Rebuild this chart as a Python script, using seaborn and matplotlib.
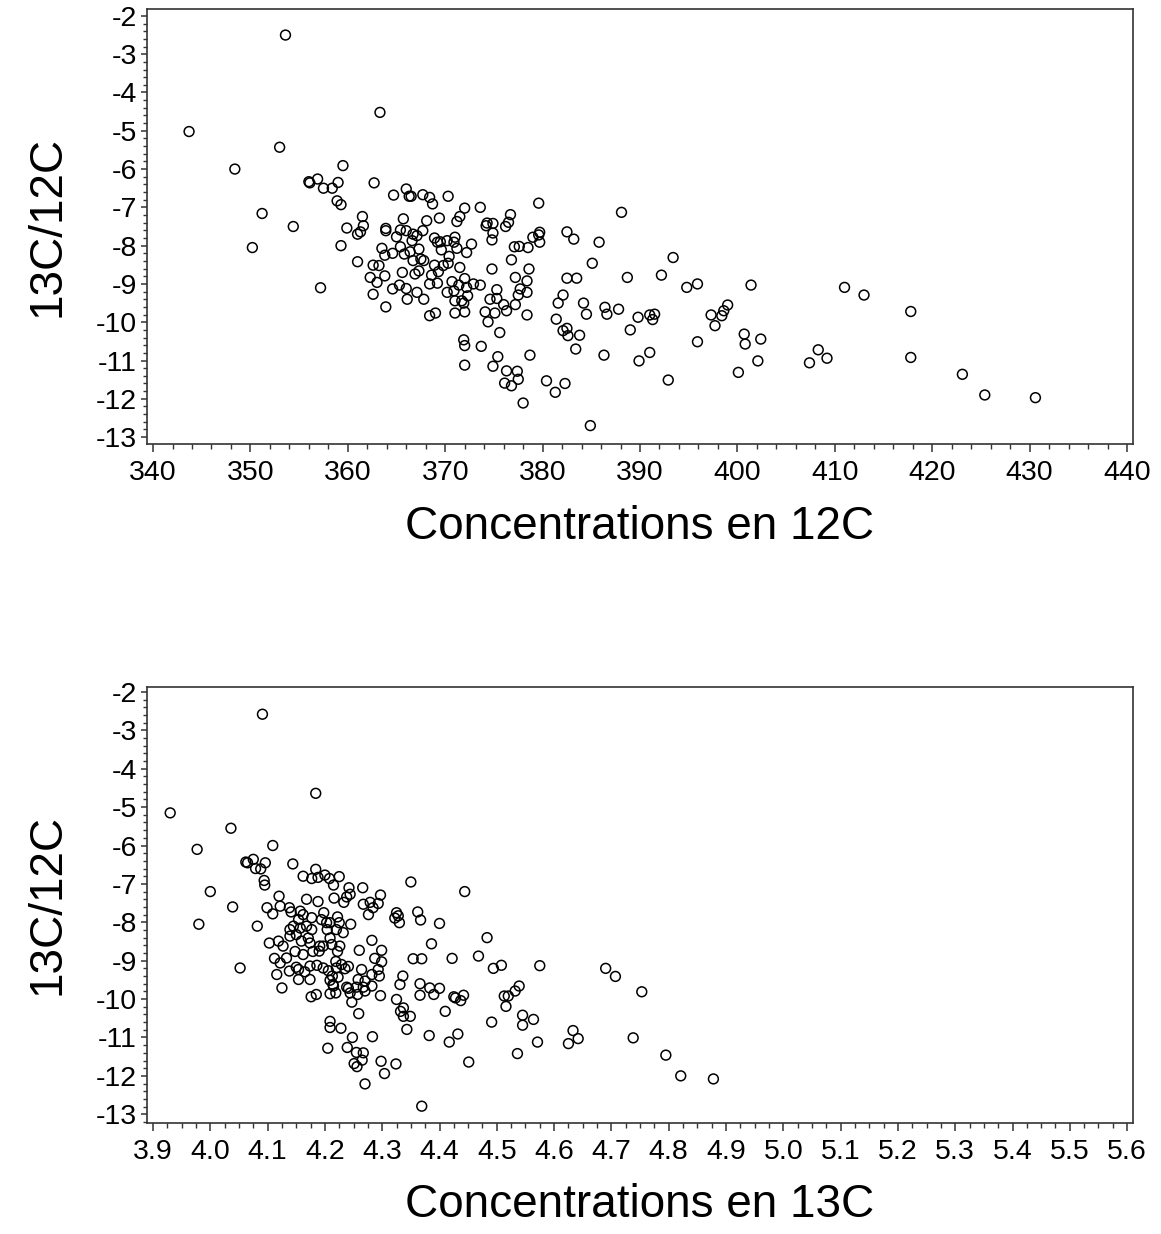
import pandas as pd
import matplotlib
matplotlib.use('Agg')
import matplotlib.pyplot as plt
from matplotlib.ticker import MultipleLocator, FormatStrFormatter
import seaborn as sns

# top panel : concentration 12C vs ratio
conc12 = [353.6, 343.7, 363.3, 353.0, 348.4, 356.0, 356.1, 356.9, 357.5, 358.4,
          351.2, 354.4, 350.2, 357.2, 359.5, 359.0, 362.7, 358.9, 359.3, 364.7,
          366.0, 366.3, 366.5, 367.7, 368.4, 368.7, 370.3, 372.0, 373.6, 379.6,
          361.5, 365.7, 368.1, 369.4, 371.5, 371.2, 374.3, 374.9, 376.7, 376.5,
          376.2, 374.2, 359.9, 361.0, 361.3, 361.6, 363.9, 363.9, 365.4, 366.0,
          366.7, 367.1, 367.7, 365.0, 368.9, 369.2, 369.5, 370.2, 371.0, 370.9,
          371.2, 372.7, 374.9, 374.8, 379.0, 379.7, 379.6, 379.7, 382.5, 359.3,
          363.5, 363.8, 364.6, 365.4, 365.8, 366.4, 366.6, 367.3, 366.7, 367.5,
          367.8, 369.6, 370.4, 372.2, 377.1, 377.6, 378.5, 361.0, 362.6, 363.2,
          365.6, 367.3, 368.9, 369.3, 369.8, 370.3, 371.5, 374.8, 376.8, 378.6,
          362.3, 363.0, 363.8, 365.3, 366.9, 368.6, 368.4, 369.2, 370.7, 372.0,
          371.4, 372.9, 373.6, 377.2, 378.4, 382.5, 362.6, 364.6, 366.0, 367.1,
          366.1, 367.8, 370.2, 370.9, 371.0, 371.7, 371.9, 372.2, 372.3, 375.3,
          374.6, 375.3, 376.0, 377.2, 377.7, 377.5, 378.4, 382.1, 381.6, 363.9,
          368.4, 369.0, 372.0, 371.0, 374.1, 375.1, 376.3, 374.4, 375.6, 378.4,
          381.4, 382.1, 382.5, 382.6, 371.9, 372.0, 373.7, 378.7, 375.4, 374.9,
          372.0, 376.3, 377.4, 377.5, 376.1, 376.8, 380.4, 381.3, 382.3, 378.0,
          388.1, 383.2, 385.8, 385.1, 393.4, 383.5, 388.7, 392.2, 394.8, 395.9,
          401.4, 384.2, 384.5, 386.4, 386.6, 387.8, 383.8, 383.4, 389.8, 391.0,
          391.5, 391.3, 389.0, 397.3, 398.4, 398.6, 399.0, 397.7, 400.7, 402.4,
          400.8, 395.9, 386.3, 391.0, 389.9, 402.1, 400.1, 392.9, 384.9, 408.3,
          409.2, 407.4, 411.0, 413.0, 417.8, 417.8, 423.1, 425.4, 430.6]
ratio_top = [-2.50, -5.02, -4.52, -5.43, -6.00, -6.33, -6.36, -6.26, -6.50, -6.50,
             -7.16, -7.50, -8.05, -9.10, -5.91, -6.35, -6.36, -6.83, -6.93, -6.68,
             -6.52, -6.71, -6.71, -6.67, -6.74, -6.91, -6.71, -7.02, -7.00, -6.89,
             -7.24, -7.30, -7.35, -7.28, -7.24, -7.37, -7.41, -7.42, -7.19, -7.39,
             -7.50, -7.48, -7.54, -7.70, -7.64, -7.48, -7.55, -7.61, -7.59, -7.61,
             -7.70, -7.74, -7.61, -7.77, -7.80, -7.91, -7.90, -7.87, -7.78, -7.91,
             -8.07, -7.96, -7.67, -7.85, -7.78, -7.65, -7.72, -7.91, -7.64, -8.00,
             -8.07, -8.25, -8.20, -8.03, -8.22, -8.16, -7.87, -8.09, -8.39, -8.35,
             -8.39, -8.11, -8.28, -8.18, -8.03, -8.02, -8.05, -8.42, -8.51, -8.52,
             -8.70, -8.66, -8.51, -8.68, -8.52, -8.46, -8.57, -8.61, -8.37, -8.61,
             -8.83, -8.96, -8.79, -9.03, -8.74, -8.77, -9.00, -8.98, -8.94, -8.86,
             -9.03, -9.00, -9.03, -8.83, -8.92, -8.85, -9.27, -9.13, -9.12, -9.22,
             -9.40, -9.40, -9.22, -9.18, -9.44, -9.44, -9.50, -9.09, -9.31, -9.15,
             -9.40, -9.38, -9.54, -9.54, -9.13, -9.29, -9.22, -9.29, -9.50, -9.60,
             -9.83, -9.76, -9.73, -9.76, -9.73, -9.76, -9.70, -9.99, -10.27, -9.81,
             -9.92, -10.22, -10.16, -10.35, -10.46, -10.61, -10.63, -10.86, -10.90, -11.15,
             -11.12, -11.27, -11.28, -11.49, -11.59, -11.66, -11.53, -11.83, -11.60, -12.11,
             -7.13, -7.83, -7.91, -8.46, -8.31, -8.85, -8.83, -8.77, -9.09, -9.00,
             -9.03, -9.50, -9.79, -9.61, -9.79, -9.66, -10.34, -10.70, -9.87, -9.81,
             -9.79, -9.93, -10.20, -9.81, -9.83, -9.70, -9.55, -10.09, -10.31, -10.44,
             -10.57, -10.51, -10.86, -10.79, -11.01, -11.01, -11.31, -11.51, -12.70, -10.72,
             -10.94, -11.06, -9.09, -9.29, -9.72, -10.92, -11.36, -11.90, -11.97]

# bottom panel : concentration 13C vs ratio
conc13 = [3.930, 3.977, 4.036, 4.091, 4.184, 4.109, 4.062, 4.065, 4.075, 4.079,
          4.088, 4.096, 4.144, 4.184, 4.094, 4.162, 4.177, 4.188, 4.200, 4.208,
          4.215, 4.225, 4.095, 4.242, 4.266, 4.350, 4.444, 4.039, 4.000, 3.980,
          4.120, 4.099, 4.109, 4.122, 4.138, 4.141, 4.168, 4.188, 4.216, 4.238,
          4.233, 4.244, 4.267, 4.279, 4.293, 4.297, 4.276, 4.284, 4.325, 4.328,
          4.330, 4.322, 4.362, 4.367, 4.400, 4.082, 4.157, 4.162, 4.154, 4.139,
          4.145, 4.157, 4.168, 4.177, 4.139, 4.150, 4.171, 4.159, 4.174, 4.177,
          4.194, 4.198, 4.203, 4.209, 4.222, 4.225, 4.232, 4.245, 4.220, 4.204,
          4.209, 4.103, 4.119, 4.127, 4.148, 4.162, 4.179, 4.191, 4.197, 4.190,
          4.212, 4.226, 4.222, 4.260, 4.282, 4.299, 4.287, 4.299, 4.386, 4.354,
          4.369, 4.422, 4.468, 4.483, 4.494, 4.508, 4.575, 4.690, 4.707, 4.753,
          4.052, 4.112, 4.133, 4.122, 4.150, 4.154, 4.138, 4.165, 4.174, 4.186,
          4.197, 4.206, 4.219, 4.220, 4.229, 4.235, 4.241, 4.213, 4.223, 4.209,
          4.116, 4.154, 4.174, 4.264, 4.258, 4.270, 4.282, 4.293, 4.295, 4.282,
          4.267, 4.336, 4.331, 4.366, 4.383, 4.400, 4.125, 4.215, 4.238, 4.425,
          4.428, 4.442, 4.437, 4.410, 4.513, 4.520, 4.532, 4.539, 4.516, 4.491,
          4.545, 4.545, 4.564, 4.571, 4.536, 4.432, 4.417, 4.451, 4.633, 4.642,
          4.625, 4.738, 4.795, 4.821, 4.878, 4.176, 4.185, 4.209, 4.219, 4.214,
          4.241, 4.244, 4.257, 4.255, 4.270, 4.247, 4.259, 4.297, 4.209, 4.209,
          4.228, 4.205, 4.248, 4.239, 4.255, 4.267, 4.265, 4.251, 4.256, 4.283,
          4.270, 4.298, 4.304, 4.324, 4.325, 4.332, 4.337, 4.337, 4.349, 4.343,
          4.366, 4.390, 4.382, 4.369]
ratio_bot = [-5.15, -6.10, -5.55, -2.58, -4.64, -6.00, -6.43, -6.45, -6.36, -6.60,
             -6.61, -6.45, -6.48, -6.62, -6.91, -6.80, -6.86, -6.83, -6.77, -6.86,
             -7.03, -6.81, -7.03, -7.10, -7.10, -6.95, -7.20, -7.60, -7.20, -8.05,
             -7.32, -7.62, -7.78, -7.58, -7.62, -7.73, -7.40, -7.46, -7.37, -7.34,
             -7.48, -7.27, -7.53, -7.48, -7.51, -7.29, -7.80, -7.62, -7.75, -7.83,
             -8.01, -7.89, -7.73, -7.94, -8.03, -8.10, -7.71, -7.80, -7.93, -8.19,
             -8.10, -8.15, -8.10, -8.19, -8.36, -8.32, -8.41, -8.49, -8.54, -7.88,
             -7.93, -7.75, -8.01, -8.01, -7.86, -8.01, -8.27, -8.05, -8.19, -8.19,
             -8.41, -8.54, -8.49, -8.62, -8.76, -8.84, -8.76, -8.62, -8.62, -8.75,
             -8.58, -8.62, -8.76, -8.73, -8.47, -8.73, -8.94, -9.03, -8.56, -8.95,
             -8.95, -8.94, -8.88, -8.40, -9.20, -9.12, -9.13, -9.20, -9.41, -9.81,
             -9.19, -8.94, -8.93, -9.06, -9.17, -9.23, -9.27, -9.29, -9.14, -9.12,
             -9.19, -9.26, -9.02, -9.19, -9.10, -9.21, -9.15, -9.40, -9.43, -9.51,
             -9.36, -9.49, -9.49, -9.23, -9.49, -9.53, -9.36, -9.23, -9.40, -9.66,
             -9.69, -9.40, -9.62, -9.60, -9.71, -9.72, -9.71, -9.66, -9.69, -9.94,
             -9.97, -9.90, -10.04, -10.32, -9.92, -9.92, -9.79, -9.66, -10.19, -10.60,
             -10.42, -10.68, -10.53, -11.12, -11.42, -10.91, -11.12, -11.64, -10.82, -11.03,
             -11.16, -11.01, -11.46, -12.00, -12.08, -9.94, -9.88, -9.86, -9.84, -9.62,
             -9.72, -9.84, -9.88, -9.69, -9.79, -10.08, -10.38, -9.91, -10.58, -10.74,
             -10.76, -11.28, -11.00, -11.26, -11.39, -11.40, -11.59, -11.68, -11.76, -10.98,
             -12.21, -11.62, -11.94, -11.69, -10.01, -10.32, -10.23, -10.45, -10.45, -10.79,
             -9.90, -9.88, -10.95, -12.79]

yticks = list(range(-13, -1))

df_top = pd.DataFrame({'c12': conc12, 'ratio': ratio_top})
df_bot = pd.DataFrame({'c13': conc13, 'ratio': ratio_bot})

sns.set_style('ticks')
plt.rcParams['font.family'] = ['Liberation Sans', 'DejaVu Sans']
plt.rcParams['axes.unicode_minus'] = False
plt.rcParams['axes.edgecolor'] = '#333333'
plt.rcParams['axes.linewidth'] = 1.2
plt.rcParams['text.color'] = 'black'
plt.rcParams['axes.labelcolor'] = 'black'
plt.rcParams['xtick.labelcolor'] = 'black'
plt.rcParams['ytick.labelcolor'] = 'black'

fig = plt.figure(figsize=(11.61, 12.34), dpi=100)
ax1 = fig.add_axes([0.1266, 0.6402, 0.8493, 0.3525])
ax2 = fig.add_axes([0.1266, 0.0902, 0.8493, 0.3531])

pt = dict(marker='o', s=50, facecolor='none', edgecolor='black', linewidth=1.1)
sns.scatterplot(data=df_top, x='c12', y='ratio', ax=ax1, **pt)
sns.scatterplot(data=df_bot, x='c13', y='ratio', ax=ax2, **pt)

ax1.set_xlim(339.38, 440.62)
ax1.set_ylim(-13.18, -1.82)
ax1.xaxis.set_major_locator(MultipleLocator(10))
ax1.xaxis.set_minor_locator(MultipleLocator(2))
ax1.set_xlabel('Concentrations en 12C')

ax2.set_xlim(3.8895, 5.6103)
ax2.set_ylim(-13.22, -1.87)
ax2.xaxis.set_major_locator(MultipleLocator(0.1))
ax2.xaxis.set_minor_locator(MultipleLocator(0.025))
ax2.xaxis.set_major_formatter(FormatStrFormatter('%.1f'))
ax2.set_xlabel('Concentrations en 13C')

for ax in (ax1, ax2):
    ax.set_yticks(yticks)
    ax.yaxis.set_minor_locator(MultipleLocator(0.2))
    ax.set_ylabel('13C/12C')
    ax.tick_params(axis='both', which='major', labelsize=20.5, color='#333333', width=1.1)
    ax.tick_params(axis='x', which='major', length=5.8, pad=6)
    ax.tick_params(axis='y', which='major', length=4.3, pad=3)
    ax.tick_params(axis='x', which='minor', length=3.4, width=1.0, color='#333333')
    ax.tick_params(axis='y', which='minor', length=3.0, width=1.0, color='#333333')
    ax.xaxis.label.set_size(33)
    ax.yaxis.label.set_size(33)
    ax.xaxis.label.set_va('center')
    ax.yaxis.label.set_va('center')
    ax.xaxis.set_label_coords(0.5, -0.19)
    ax.yaxis.set_label_coords(-0.1004, 0.5)
    for sp in ax.spines.values():
        sp.set_visible(True)

fig.savefig('out.png', dpi=100)
